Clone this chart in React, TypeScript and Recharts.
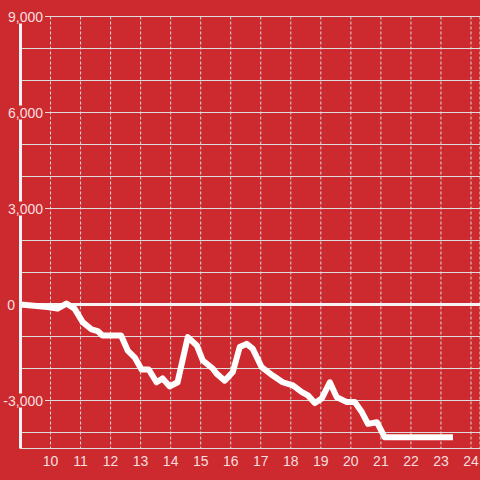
import React from "react";
import {
  LineChart,
  Line,
  XAxis,
  YAxis,
  CartesianGrid,
  ReferenceLine,
} from "recharts";

// hour of day / cumulative value
const hours = [
  9, 9.9, 10.23, 10.53, 10.8, 11.07, 11.37, 11.57, 11.73, 12.35, 12.57, 12.8,
  13.03, 13.27, 13.53, 13.73, 13.97, 14.23, 14.57, 14.87, 15.07, 15.4, 15.53,
  15.8, 16.07, 16.3, 16.53, 16.73, 17.03, 17.4, 17.73, 18.07, 18.37, 18.57,
  18.8, 19.03, 19.3, 19.53, 19.87, 20.13, 20.37, 20.57, 20.87, 21.13, 22,
  23.3,
];
const values = [
  0, -80, -130, 30, -130, -550, -780, -830, -970, -970, -1440, -1650, -2030,
  -2030, -2430, -2310, -2560, -2430, -1020, -1280, -1750, -2000, -2160, -2380,
  -2110, -1330, -1230, -1380, -1960, -2220, -2430, -2530, -2740, -2840, -3080,
  -2940, -2430, -2900, -3050, -3050, -3370, -3730, -3680, -4150, -4150, -4150,
];

const xTicks = [10, 11, 12, 13, 14, 15, 16, 17, 18, 19, 20, 21, 22, 23, 24];
const yTicks = [
  -4000, -3000, -2000, -1000, 0, 1000, 2000, 3000, 4000, 5000, 6000, 7000,
  8000, 9000,
];
const yLabelled = [9000, 6000, 3000, 0, -3000];

const data = hours.map((t, i) => ({ t, v: values[i] }));

const BG = "#cd2a2f";
const TXT = "rgba(255,255,255,0.86)";
const FONT = "'Liberation Sans', Arial, sans-serif";

function XTick(props: any) {
  const { x, payload } = props;
  return (
    <text x={x} y={466} textAnchor="middle" fill={TXT} fontSize={14} fontFamily={FONT}>
      {payload.value}
    </text>
  );
}

function YTick(props: any) {
  const { y, payload } = props;
  const v = payload.value;
  if (!yLabelled.includes(v)) return <g />;
  const label = v.toLocaleString("en-US");
  if (v === 0) {
    return (
      <text x={15} y={y + 5} textAnchor="end" fill={TXT} fontSize={14} fontFamily={FONT}>
        {label}
      </text>
    );
  }
  const w = label.length * 7.4;
  return (
    <g>
      <rect x={43 - w - 1} y={y - 7} width={w + 3} height={14} fill={BG} />
      <text x={43} y={y + 5} textAnchor="end" fill={TXT} fontSize={14} fontFamily={FONT}>
        {label}
      </text>
    </g>
  );
}

export default function App() {
  return (
    <div style={{ position: "absolute", left: 0, top: 0, width: 480, height: 480, background: BG }}>
      <LineChart
        width={480}
        height={480}
        data={data}
        margin={{ top: 16.5, right: 0, bottom: 0, left: 0.5 }}
      >
        <CartesianGrid vertical={false} stroke="#dcdcdc" strokeWidth={1} />
        <CartesianGrid horizontal={false} stroke="#dcdcdc" strokeWidth={1} strokeDasharray="3 2" />
        <XAxis
          dataKey="t"
          type="number"
          height={31.5}
          domain={[9, 24.3]}
          ticks={xTicks}
          axisLine={false}
          tickLine={false}
          tick={<XTick />}
          allowDataOverflow
        />
        <YAxis
          type="number"
          width={20}
          domain={[-4500, 9000]}
          ticks={yTicks}
          interval={0}
          axisLine={{ stroke: "#f4f4f4", strokeWidth: 3 }}
          tickLine={false}
          tick={<YTick />}
          allowDataOverflow
        />
        <ReferenceLine y={0} stroke="#f4f4f4" strokeWidth={3} />
        <Line
          dataKey="v"
          type="linear"
          stroke="#ffffff"
          strokeWidth={6}
          strokeLinejoin="round"
          strokeLinecap="square"
          dot={false}
          activeDot={false}
          isAnimationActive={false}
        />
      </LineChart>
    </div>
  );
}
